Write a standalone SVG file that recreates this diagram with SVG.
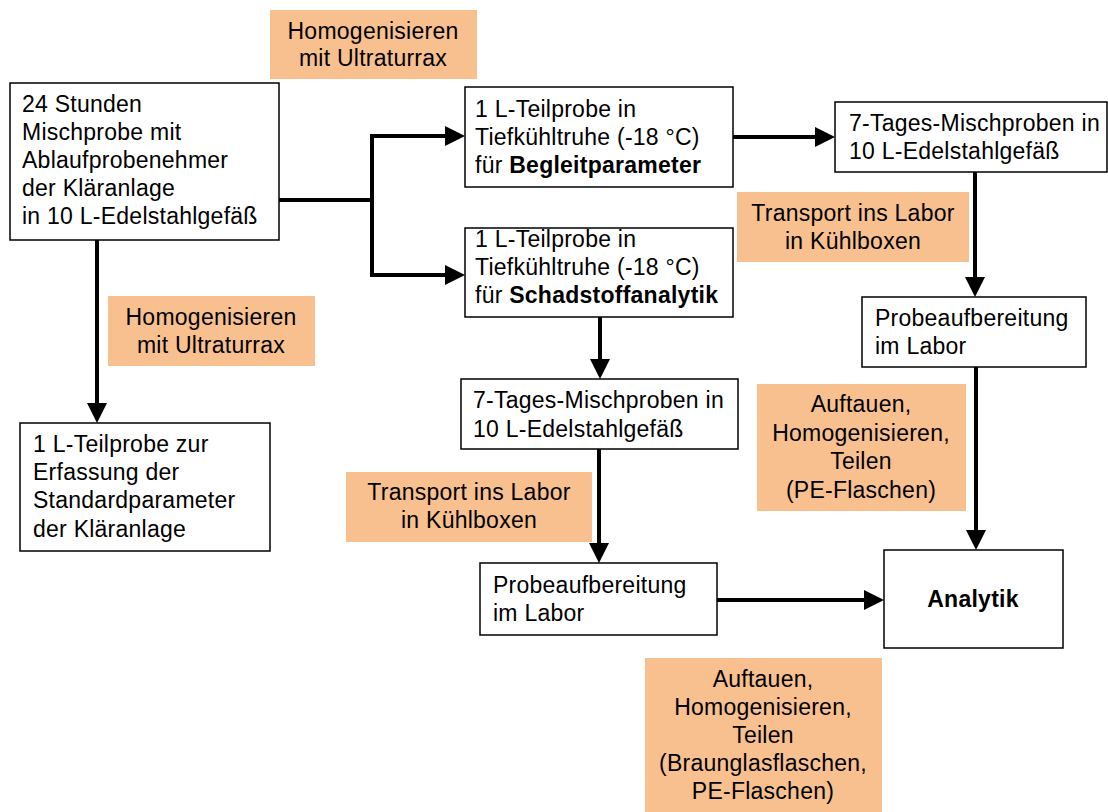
<svg xmlns="http://www.w3.org/2000/svg" width="1108" height="812" viewBox="0 0 1108 812">
<defs>
<style>
.box{fill:#fff;stroke:#000;stroke-width:1.5}
.note{fill:#F8C08F;stroke:none}
text{font-family:"Liberation Sans",Arial,sans-serif;font-size:23px;fill:#000;letter-spacing:0.25px}
.c{text-anchor:middle}
.b{font-weight:bold}
.line{fill:none;stroke:#000;stroke-width:4;stroke-linejoin:miter}
</style>
<marker id="arr" markerUnits="userSpaceOnUse" markerWidth="20" markerHeight="20" refX="0" refY="10" orient="auto" viewBox="0 0 20 20">
<path d="M0,0 L20,10 L0,20 z" fill="#000"/>
</marker>
</defs>
<rect width="1108" height="812" fill="#fff"/>

<g id="connectors">
<path class="line" d="M279 200 H372"/>
<path class="line" d="M372 134 V277"/>
<path class="line" d="M370 136 H445" marker-end="url(#arr)"/>
<path class="line" d="M370 275 H445" marker-end="url(#arr)"/>
<path class="line" d="M733 137 H815" marker-end="url(#arr)"/>
<path class="line" d="M975 172 V277" marker-end="url(#arr)"/>
<path class="line" d="M976 367 V530" marker-end="url(#arr)"/>
<path class="line" d="M97 240 V403" marker-end="url(#arr)"/>
<path class="line" d="M600 317 V359" marker-end="url(#arr)"/>
<path class="line" d="M599 449 V543" marker-end="url(#arr)"/>
<path class="line" d="M717 600 H864" marker-end="url(#arr)"/>
</g>

<g id="note-homog-top">
<rect class="note" x="270" y="10" width="207" height="69"/>
<text class="c" x="373" y="39">Homogenisieren</text>
<text class="c" x="373" y="66">mit Ultraturrax</text>
</g>

<g id="node-mischprobe">
<rect class="box" x="10" y="83" width="269" height="157"/>
<text x="22" y="112">24 Stunden</text>
<text x="22" y="140">Mischprobe mit</text>
<text x="22" y="168">Ablaufprobenehmer</text>
<text x="22" y="196">der Kläranlage</text>
<text x="22" y="224">in 10 L-Edelstahlgefäß</text>
</g>

<g id="node-begleit">
<rect class="box" x="465" y="87" width="268" height="100"/>
<text x="475" y="117">1 L-Teilprobe in</text>
<text x="475" y="145">Tiefkühltruhe (-18 °C)</text>
<text x="475" y="173">für <tspan class="b">Begleitparameter</tspan></text>
</g>

<g id="node-schadstoff">
<rect class="box" x="465" y="228" width="268" height="89"/>
<text x="475" y="247">1 L-Teilprobe in</text>
<text x="475" y="275">Tiefkühltruhe (-18 °C)</text>
<text x="475" y="303">für <tspan class="b">Schadstoffanalytik</tspan></text>
</g>

<g id="node-7tage-right">
<rect class="box" x="835" y="102" width="272" height="70"/>
<text x="849" y="131">7-Tages-Mischproben in</text>
<text x="849" y="159">10 L-Edelstahlgefäß</text>
</g>

<g id="note-transport-right">
<rect class="note" x="737" y="192" width="232" height="70"/>
<text class="c" x="853" y="221">Transport ins Labor</text>
<text class="c" x="853" y="249">in Kühlboxen</text>
</g>

<g id="node-probe-right">
<rect class="box" x="862" y="297" width="224" height="70"/>
<text x="875" y="326">Probeaufbereitung</text>
<text x="875" y="354">im Labor</text>
</g>

<g id="note-homog-left">
<rect class="note" x="108" y="296" width="207" height="70"/>
<text class="c" x="211" y="325">Homogenisieren</text>
<text class="c" x="211" y="353">mit Ultraturrax</text>
</g>

<g id="node-standard">
<rect class="box" x="20" y="423" width="250" height="128"/>
<text x="33" y="452">1 L-Teilprobe zur</text>
<text x="33" y="480">Erfassung der</text>
<text x="33" y="508">Standardparameter</text>
<text x="33" y="537">der Kläranlage</text>
</g>

<g id="node-7tage-mid">
<rect class="box" x="461" y="379" width="277" height="70"/>
<text x="473" y="408">7-Tages-Mischproben in</text>
<text x="473" y="437">10 L-Edelstahlgefäß</text>
</g>

<g id="note-auftauen-right">
<rect class="note" x="757" y="384" width="209" height="127"/>
<text class="c" x="861" y="412">Auftauen,</text>
<text class="c" x="861" y="441">Homogenisieren,</text>
<text class="c" x="861" y="469">Teilen</text>
<text class="c" x="861" y="498">(PE-Flaschen)</text>
</g>

<g id="note-transport-left">
<rect class="note" x="346" y="472" width="246" height="70"/>
<text class="c" x="469" y="500">Transport ins Labor</text>
<text class="c" x="469" y="528">in Kühlboxen</text>
</g>

<g id="node-probe-mid">
<rect class="box" x="480" y="563" width="237" height="72"/>
<text x="493" y="593">Probeaufbereitung</text>
<text x="493" y="621">im Labor</text>
</g>

<g id="node-analytik">
<rect class="box" x="884" y="550" width="179" height="98"/>
<text class="c b" x="973" y="607">Analytik</text>
</g>

<g id="note-auftauen-bottom">
<rect class="note" x="645" y="658" width="237" height="154"/>
<text class="c" x="763" y="687">Auftauen,</text>
<text class="c" x="763" y="715">Homogenisieren,</text>
<text class="c" x="763" y="743">Teilen</text>
<text class="c" x="763" y="771">(Braunglasflaschen,</text>
<text class="c" x="763" y="799">PE-Flaschen)</text>
</g>
</svg>
